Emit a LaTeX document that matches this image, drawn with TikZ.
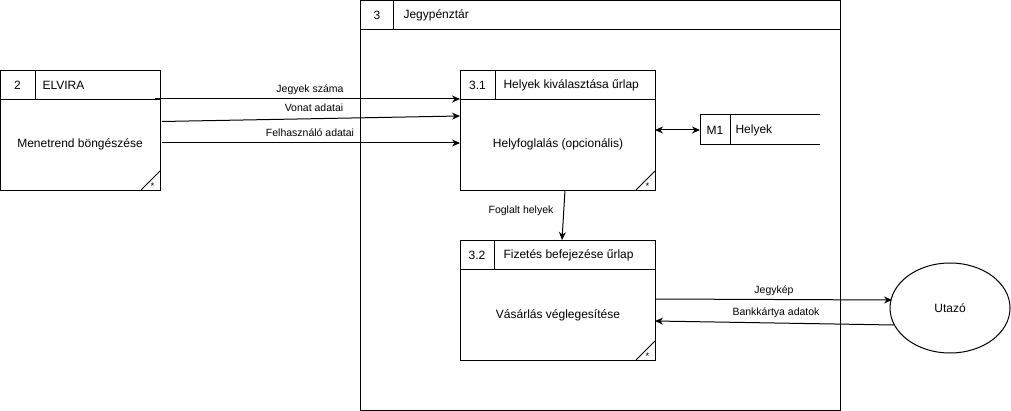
\documentclass[tikz,border=0pt]{standalone}
\usepackage{fontspec}
\setmainfont{Liberation Sans}
\usetikzlibrary{arrows.meta,shapes.geometric}
\begin{document}
\begin{tikzpicture}[x=1pt,y=-1pt,line width=1pt,
  proc/.style={draw,line width=1pt,rectangle,anchor=north west,inner sep=0pt},
  txt/.style={font=\fontsize{12}{14}\selectfont,inner sep=0pt},
  lbl/.style={font=\fontsize{10.5}{12}\selectfont,inner sep=0pt},
  star/.style={font=\fontsize{9.5}{9.5}\selectfont,inner sep=0pt},
  flow/.style={-{Stealth[length=8pt,width=7pt]},line width=1pt},
  bflow/.style={{Stealth[length=8pt,width=7pt]}-{Stealth[length=8pt,width=7pt]},line width=1pt}]
\useasboundingbox (0,0) rectangle (1011,411);
% outer process 3
\node[proc,minimum width=480pt,minimum height=410pt] (p3) at (360,0) {};
\draw (360,30) -- (840,30);
\draw (393,0) -- (393,30);
\node[txt] (p3id) at (377,15) {3};
\node[txt,anchor=west] (p3name) at (403,15) {Jegypénztár};
% process 2 ELVIRA
\node[proc,minimum width=160pt,minimum height=120pt] (elvira) at (0,70) {};
\draw (0,100) -- (160,100);
\draw (35,70) -- (35,100);
\node[txt] (elviraid) at (17.5,85) {2};
\node[txt,anchor=west] (elviraname) at (42,85) {ELVIRA};
\node[txt] (elviratext) at (80,144) {Menetrend böngészése};
\draw (141,190) -- (160,171);
\node[star] (elvirastar) at (152.5,186) {*};
% process 3.1
\node[proc,minimum width=195pt,minimum height=120pt] (p31) at (460,70) {};
\draw (460,100) -- (655,100);
\draw (495,70) -- (495,100);
\node[txt] (p31id) at (477.5,85) {3.1};
\node[txt,anchor=west] (p31name) at (503,85) {Helyek kiválasztása űrlap};
\node[txt] (p31text) at (558,144) {Helyfoglalás (opcionális)};
\draw (636,190) -- (655,171);
\node[star] (p31star) at (647.5,186) {*};
% process 3.2
\node[proc,minimum width=195pt,minimum height=120pt] (p32) at (460,240) {};
\draw (460,270) -- (655,270);
\draw (494,240) -- (494,270);
\node[txt] (p32id) at (477,255) {3.2};
\node[txt,anchor=west] (p32name) at (503,255) {Fizetés befejezése űrlap};
\node[txt] (p32text) at (558,315) {Vásárlás véglegesítése};
\draw (636,360) -- (655,341);
\node[star] (p32star) at (647.5,356) {*};
% data store M1
\coordinate (m1) at (700,130);
\draw (820,115) -- (700,115) -- (700,145) -- (820,145);
\draw (730,115) -- (730,145);
\node[txt] (m1id) at (715,130) {M1};
\node[txt,anchor=west] (m1name) at (735,130) {Helyek};
% external entity
\node[draw,ellipse,line width=1pt,minimum width=120pt,minimum height=90pt,inner sep=0pt,
  font=\fontsize{12}{14}\selectfont] (utazo) at (950,308) {Utazó};
% flows
\coordinate (e1) at (155,99);
\coordinate (e2) at (162,121.5);
\coordinate (e3) at (162,143);
\coordinate (t1) at (460,99);
\coordinate (t2) at (460,116);
\coordinate (t3) at (460,143);
\draw[flow] (e1) -- (t1);
\draw[flow] (e2) -- (t2);
\draw[flow] (e3) -- (t3);
\node[lbl] (l1) at (310,90) {Jegyek száma};
\node[lbl] (l2) at (314,108) {Vonat adatai};
\node[lbl] (l3) at (310,133) {Felhasználó adatai};
\coordinate (p31r) at (655,130);
\draw[bflow] (p31r) -- (m1);
\coordinate (p31b) at (565,190);
\coordinate (p32t) at (562,240);
\draw[flow] (p31b) -- (p32t);
\node[lbl] (l4) at (521,211) {Foglalt helyek};
\coordinate (p32r1) at (655,299);
\coordinate (ut1) at (892,300);
\draw[flow] (p32r1) -- (ut1);
\node[lbl] (l5) at (774,291) {Jegykép};
\coordinate (ut2) at (894,325);
\coordinate (p32r2) at (655,321);
\draw[flow] (ut2) -- (p32r2);
\node[lbl] (l6) at (776,313) {Bankkártya adatok};
\end{tikzpicture}
\end{document}
